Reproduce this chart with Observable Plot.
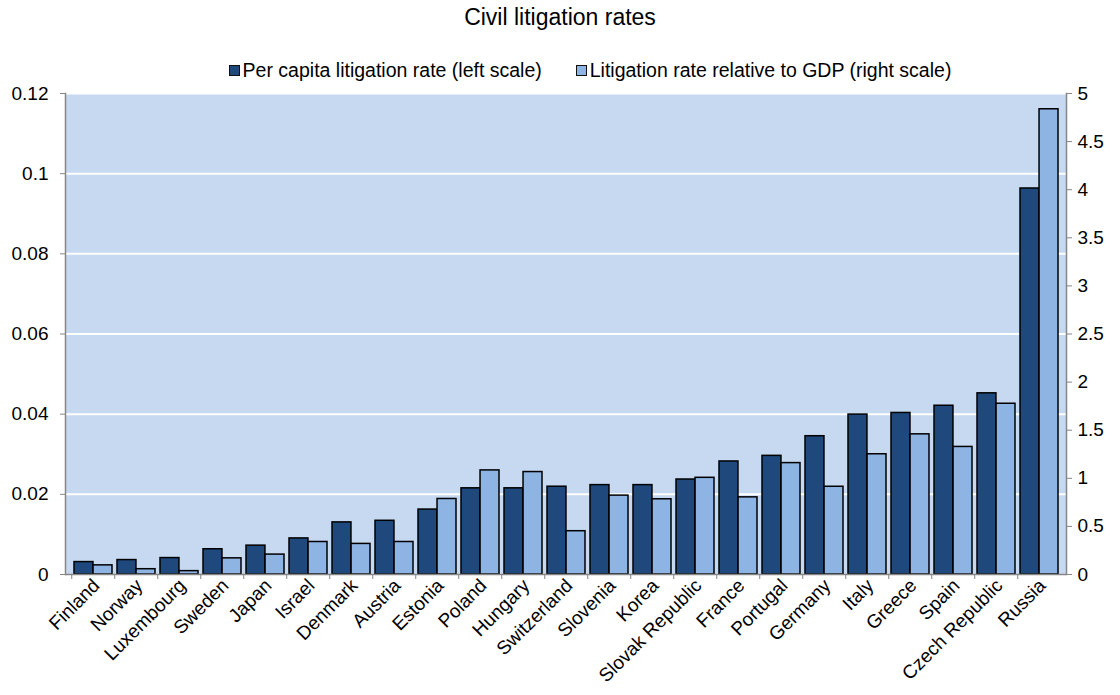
<!DOCTYPE html>
<html>
<head>
<meta charset="utf-8">
<script src="https://cdn.jsdelivr.net/npm/d3@7"></script>
<script src="https://cdn.jsdelivr.net/npm/@observablehq/plot@0.6"></script>
<style>
  html, body { margin: 0; padding: 0; background: white; }
  body { width: 1120px; height: 695px; overflow: hidden; font-family: "Liberation Sans", Arial, sans-serif; }
  #head { height: 83px; position: relative; }
  #title { position: absolute; left: 0; width: 1120px; top: 4px; text-align: center; font-size: 23px; color: #000; }
  #legend { position: absolute; left: 60px; width: 1060px; top: 58px; text-align: center; font-size: 19.5px; color: #000; white-space: nowrap; }
  .item { display: inline-flex; align-items: center; margin: 0 17px; }
  .sw { display: inline-block; width: 9px; height: 9px; border: 1.5px solid #111; margin-right: 3px; }
</style>
</head>
<body>
<div id="head">
  <div id="title">Civil litigation rates</div>
  <div id="legend"></div>
</div>
<div id="chart"></div>
<script>
const countries = ["Finland","Norway","Luxembourg","Sweden","Japan","Israel","Denmark","Austria","Estonia","Poland","Hungary","Switzerland","Slovenia","Korea","Slovak Republic","France","Portugal","Germany","Italy","Greece","Spain","Czech Republic","Russia"];
const perCapita = [0.0031,0.0036,0.0041,0.0063,0.0072,0.0090,0.0130,0.0134,0.0162,0.0215,0.0215,0.0219,0.0223,0.0223,0.0237,0.0282,0.0296,0.0345,0.0399,0.0403,0.0421,0.0452,0.0963];
const relGDP = [0.095,0.055,0.035,0.168,0.207,0.338,0.318,0.338,0.785,1.082,1.065,0.450,0.820,0.782,1.005,0.802,1.158,0.912,1.250,1.457,1.326,1.775,4.836];
const seriesNames = ["Per capita litigation rate (left scale)", "Litigation rate relative to GDP (right scale)"];
const seriesColors = ["#1F497D", "#8DB4E2"];
const leftTicks = [0, 0.02, 0.04, 0.06, 0.08, 0.1, 0.12];
const rightTicks = [0, 0.5, 1, 1.5, 2, 2.5, 3, 3.5, 4, 4.5, 5];
const leftMax = 0.12, rightMax = 5;
const ratio = leftMax / rightMax;

// legend
const legend = document.getElementById("legend");
seriesNames.forEach((n, i) => {
  const it = document.createElement("span");
  it.className = "item";
  it.innerHTML = `<span class="sw" style="background:${seriesColors[i]}"></span>${n}`;
  legend.appendChild(it);
});

const rows = countries.map((c, i) => ({country: c, a: perCapita[i], b: relGDP[i] * ratio}));

const W = 1120, mL = 65, mR = 54;
const step = (W - mL - mR) / countries.length;
const pad = 0.125;
const bw = step * (1 - pad);
const half = bw / 2;

const chart = Plot.plot({
  width: W,
  height: 612,
  marginLeft: mL,
  marginRight: mR,
  marginTop: 10,
  marginBottom: 121,
  style: {fontFamily: "'Liberation Sans', Arial, sans-serif", fontSize: "19px", background: "white", color: "#000", overflow: "visible"},
  x: {domain: countries, paddingInner: pad, paddingOuter: pad / 2, axis: null, label: null},
  y: {domain: [0, leftMax], axis: null, label: null},
  marks: [
    Plot.frame({fill: "#C6D9F0", stroke: null}),
    Plot.ruleY(leftTicks.slice(1), {stroke: "white", strokeWidth: 2}),
    Plot.barY(rows, {x: "country", y: "a", fill: seriesColors[0], stroke: "#000", strokeWidth: 1.5, insetRight: half}),
    Plot.barY(rows, {x: "country", y: "b", fill: seriesColors[1], stroke: "#000", strokeWidth: 1.5, insetLeft: half}),
    Plot.frame({anchor: "left", stroke: "#868686", strokeWidth: 1.5}),
    Plot.frame({anchor: "right", stroke: "#868686", strokeWidth: 1.5}),
    Plot.ruleY([0], {stroke: "#868686", strokeWidth: 1.5}),
    Plot.axisY(leftTicks, {anchor: "left", tickSize: 5, tickPadding: 12, stroke: "#868686", fill: "#000", tickFormat: d => String(+d.toFixed(3)), label: null}),
    Plot.axisY(rightTicks.map(t => t * ratio), {anchor: "right", tickSize: 5, tickPadding: 6, stroke: "#868686", fill: "#000", tickFormat: d => String(+(d / ratio).toFixed(2)), label: null}),
    Plot.axisX({anchor: "bottom", tickSize: 5, stroke: "#868686", tickFormat: () => "", dx: -step / 2, label: null}),
    Plot.axisX({anchor: "bottom", tickSize: 0, tickPadding: 8, tickRotate: -45, fill: "#000", dx: 3, label: null})
  ]
});
document.getElementById("chart").appendChild(chart);
</script>
</body>
</html>
